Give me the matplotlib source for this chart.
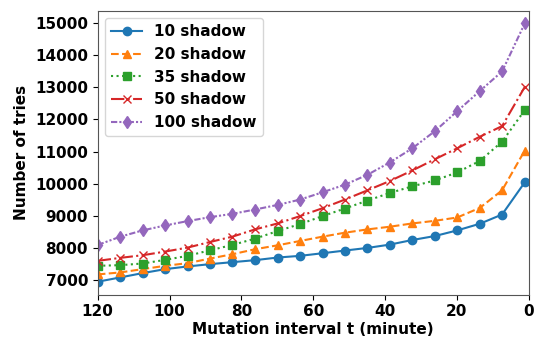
"""Number of tries vs mutation interval for several shadow counts"""
import matplotlib
matplotlib.use('Agg')
import matplotlib.pyplot as plt

# mutation interval t (minute)
interval = [120.0, 113.7, 107.5, 101.2, 95.0, 88.7, 82.5, 76.2, 69.9, 63.7,
            57.4, 51.2, 44.9, 38.7, 32.4, 26.1, 19.9, 13.6, 7.4, 1.1]

tries_10 = [6948, 7082, 7216, 7340, 7423, 7495, 7557, 7619, 7701, 7753,
            7835, 7918, 8000, 8103, 8247, 8371, 8546, 8753, 9041, 10041]
tries_20 = [7175, 7237, 7340, 7443, 7526, 7670, 7804, 7959, 8082, 8216,
            8351, 8474, 8577, 8660, 8763, 8845, 8948, 9247, 9794, 11031]
tries_35 = [7443, 7464, 7515, 7629, 7753, 7928, 8093, 8289, 8526, 8742,
            8990, 9227, 9474, 9711, 9918, 10103, 10351, 10711, 11309, 12289]
tries_50 = [7598, 7691, 7773, 7887, 8010, 8186, 8351, 8577, 8763, 8990,
            9237, 9505, 9794, 10082, 10412, 10763, 11103, 11464, 11794, 13010]
tries_100 = [8093, 8351, 8546, 8701, 8835, 8959, 9062, 9196, 9340, 9505,
             9732, 9969, 10278, 10660, 11103, 11639, 12258, 12887, 13495, 14990]

labels = ['10 shadow', '20 shadow', '35 shadow', '50 shadow', '100 shadow']

plt.rcParams['font.family'] = 'DejaVu Sans'
plt.rcParams['font.weight'] = 'bold'
plt.rcParams['axes.labelweight'] = 'bold'

fig = plt.figure(figsize=(5.4, 3.41), dpi=100)
ax = fig.add_axes([0.181, 0.136, 0.798, 0.833])

styles = [
    ('-', 'o', '#1f77b4'),
    ('--', '^', '#ff7f0e'),
    (':', 's', '#2ca02c'),
    ('-.', 'x', '#d62728'),
    ((0, (3, 1, 1, 1, 1, 1)), 'd', '#9467bd'),
]
for ys, lab, (ls, mk, c) in zip([tries_10, tries_20, tries_35, tries_50, tries_100],
                                labels, styles):
    ax.plot(interval, ys, linestyle=ls, marker=mk, color=c, label=lab,
            markersize=6, linewidth=1.5)

ax.set_xlim(120, 0)
ax.set_xticks([120, 100, 80, 60, 40, 20, 0])
ax.set_yticks(range(7000, 15001, 1000))
ax.tick_params(labelsize=11)
for t in ax.get_xticklabels() + ax.get_yticklabels():
    t.set_fontweight('bold')
for s in ax.spines.values():
    s.set_color('#555555')

ax.set_xlabel('Mutation interval t (minute)', fontsize=11, fontweight='bold', labelpad=2)
ax.set_ylabel('Number of tries', fontsize=11, fontweight='bold')

ax.legend(loc='upper left', prop={'size': 11, 'weight': 'bold'})

fig.savefig('out.png', dpi=100)
